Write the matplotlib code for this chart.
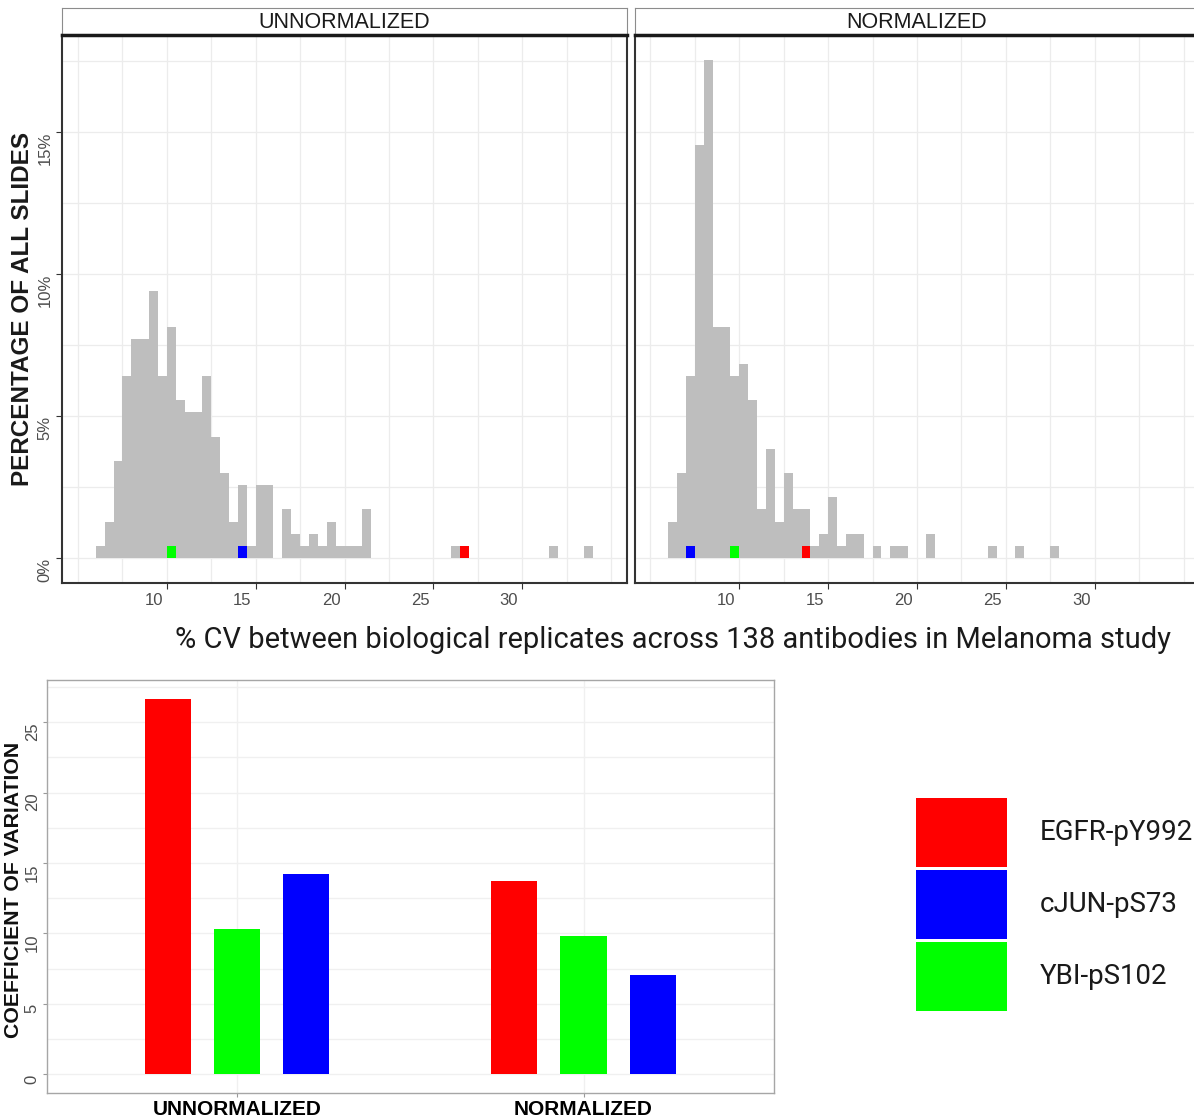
import numpy as np
import matplotlib
matplotlib.use('Agg')
import matplotlib.pyplot as plt
import matplotlib.transforms as mtransforms
from matplotlib.patches import Rectangle

# ---- histogram data (bins of 0.5 % CV, count of antibodies per bin) ----
unnorm_bin_left = [6.0, 6.5, 7.0, 7.5, 8.0, 8.5, 9.0, 9.5, 10.0, 10.5, 11.0, 11.5,
                   12.0, 12.5, 13.0, 13.5, 14.0, 14.5, 15.0, 15.5, 16.5, 17.0, 17.5,
                   18.0, 18.5, 19.0, 19.5, 20.0, 20.5, 21.0, 26.0, 26.5, 31.5, 33.5]
unnorm_counts = [1, 3, 8, 15, 18, 18, 22, 15, 19, 13, 12, 12,
                 15, 10, 7, 3, 6, 1, 6, 6, 4, 2, 1,
                 2, 1, 3, 1, 1, 1, 4, 1, 1, 1, 1]

norm_bin_left = [6.0, 6.5, 7.0, 7.5, 8.0, 8.5, 9.0, 9.5, 10.0, 10.5, 11.0, 11.5,
                 12.0, 12.5, 13.0, 13.5, 14.0, 14.5, 15.0, 15.5, 16.0, 16.5, 17.5,
                 18.5, 19.0, 20.5, 24.0, 25.5, 27.5]
norm_counts = [3, 7, 15, 34, 41, 19, 19, 15, 16, 13, 4, 9,
               3, 7, 4, 4, 1, 2, 5, 1, 2, 2, 1,
               1, 1, 2, 1, 1, 1]

n_total = 234
bin_width = 0.5

# ---- coefficient of variation of the three highlighted antibodies ----
conditions = ['UNNORMALIZED', 'NORMALIZED']
bar_order = ['EGFR-pY992', 'YBI-pS102', 'cJUN-pS73']
cv_unnormalized = [26.66, 10.31, 14.23]
cv_normalized = [13.76, 9.79, 7.03]
legend_order = ['EGFR-pY992', 'cJUN-pS73', 'YBI-pS102']
colores = {'EGFR-pY992': '#ff0000', 'cJUN-pS73': '#0000ff', 'YBI-pS102': '#00ff00'}

W, H = 1194, 1117
fig = plt.figure(figsize=(W / 100, H / 100), dpi=100)
fig.patch.set_facecolor('white')

def px_box(x0, y0, x1, y1):
    # convierte caja en pixeles (origen arriba-izquierda) a coordenadas de figura
    return [x0 / W, 1 - y1 / H, (x1 - x0) / W, (y1 - y0) / H]

ggfont = 'Liberation Sans'
docfont = 'Roboto'


def panel_hist(ax, lefts, counts, cvs, show_y):
    pct = [c / n_total * 100 for c in counts]
    ax.bar(lefts, pct, width=bin_width, align='edge', color='#bebebe', linewidth=0, zorder=2)
    for name, v in zip(bar_order, cvs):
        ax.bar(np.floor(v / bin_width) * bin_width, 100 / n_total, width=bin_width,
               align='edge', color=colores[name], linewidth=0, zorder=3)
    ax.set_xlim(4.1, 35.9)
    ax.set_ylim(-0.876, 18.4)
    ax.set_xticks([10, 15, 20, 25, 30])
    ax.set_xticks([5, 7.5, 12.5, 17.5, 22.5, 27.5, 32.5, 35], minor=True)
    ax.set_yticks([0, 5, 10, 15])
    ax.set_yticks([2.5, 7.5, 12.5, 17.5], minor=True)
    ax.grid(which='both', color='#ececec', linewidth=0.9, zorder=0)
    ax.tick_params(which='minor', length=0)
    ax.tick_params(axis='x', which='major', length=4, color='#333333', labelsize=12,
                   labelcolor='#4d4d4d', pad=3)
    shift = mtransforms.ScaledTranslation(-4 / 100, 0, fig.dpi_scale_trans)
    for lab in ax.get_xticklabels():
        lab.set_fontfamily(ggfont)
        lab.set_ha('right')
        lab.set_transform(lab.get_transform() + shift)
    if show_y:
        ax.set_yticklabels(['0%', '5%', '10%', '15%'], rotation=90, va='top',
                           fontfamily=ggfont)
        ax.tick_params(axis='y', which='major', length=4, color='#333333', labelsize=12,
                       labelcolor='#4d4d4d', pad=3)
    else:
        ax.tick_params(axis='y', which='major', length=0, labelleft=False)
    for s in ax.spines.values():
        s.set_color('#333333')
        s.set_linewidth(1.5)


def strip(box, text):
    sax = fig.add_axes(box)
    sax.set_xticks([])
    sax.set_yticks([])
    for s in sax.spines.values():
        s.set_color('#8c8c8c')
        s.set_linewidth(0.8)
    sax.spines['bottom'].set_color('#1a1a1a')
    sax.spines['bottom'].set_linewidth(2.5)
    sax.text(0.5, 0.45, text, ha='center', va='center', fontsize=15.5,
             fontfamily=ggfont, color='#1a1a1a', transform=sax.transAxes)


# ---- histogramas arriba ----
ax1 = fig.add_axes(px_box(62, 35, 627, 583))
panel_hist(ax1, unnorm_bin_left, unnorm_counts, cv_unnormalized, True)
strip(px_box(62, 8, 627, 35), 'UNNORMALIZED')

ax2 = fig.add_axes(px_box(634.5, 35, 1199.5, 583))
panel_hist(ax2, norm_bin_left, norm_counts, cv_normalized, False)
strip(px_box(634.5, 8, 1199.5, 35), 'NORMALIZED')

fig.text(23 / W, 1 - 309 / H, 'PERCENTAGE OF ALL SLIDES', rotation=90, ha='center',
         va='center', fontsize=17.5, fontweight='bold', fontfamily=ggfont, color='#1a1a1a')
fig.text(673 / W, 1 - 640 / H,
         '% CV between biological replicates across 138 antibodies in Melanoma study',
         ha='center', va='center', fontsize=20.9, fontfamily=docfont, color='#1a1a1a')

# ---- barras abajo ----
ax3 = fig.add_axes(px_box(46.7, 680, 774, 1093))
pos = np.arange(1, len(conditions) + 1)
offsets = [-0.2, 0.0, 0.2]
for i, name in enumerate(bar_order):
    ax3.bar(pos + offsets[i], [cv_unnormalized[i], cv_normalized[i]], width=0.133,
            color=colores[name], linewidth=0, zorder=2)
ax3.set_xlim(0.45, 2.55)
ax3.set_ylim(-1.33, 28.0)
ax3.set_xticks(pos)
ax3.set_xticklabels(conditions, fontsize=15, fontweight='bold', fontfamily=ggfont)
ax3.set_yticks([0, 5, 10, 15, 20, 25])
ax3.set_yticks([2.5, 7.5, 12.5, 17.5, 22.5, 27.5], minor=True)
ax3.set_yticklabels(['0', '5', '10', '15', '20', '25'], rotation=90, va='top',
                    fontfamily=ggfont)
ax3.grid(which='both', color='#f0f0f0', linewidth=1.0, zorder=0)
ax3.tick_params(which='minor', length=0)
ax3.tick_params(axis='y', length=3, color='#999999', labelsize=12, labelcolor='#4d4d4d', pad=2)
ax3.tick_params(axis='x', length=3, color='#999999', pad=2)
for s in ax3.spines.values():
    s.set_color('#a6a6a6')
    s.set_linewidth(1.0)
fig.text(14 / W, 1 - 890 / H, 'COEFFICIENT OF VARIATION', rotation=90, ha='center',
         va='center', fontsize=15.3, fontweight='bold', fontfamily=ggfont, color='#111111')

# ---- leyenda ----
leg_top = 797.7
leg_h = 69.5
for k, name in enumerate(legend_order):
    y0 = leg_top + k * (leg_h + 2.5)
    fig.add_artist(Rectangle((916 / W, 1 - (y0 + leg_h) / H), 91 / W, leg_h / H,
                             transform=fig.transFigure, color=colores[name], linewidth=0))
    fig.text(1040 / W, 1 - (y0 + leg_h / 2) / H, name, ha='left', va='center',
             fontsize=19.9, fontfamily=docfont, color='#1a1a1a')

fig.savefig('out.png', dpi=100)
